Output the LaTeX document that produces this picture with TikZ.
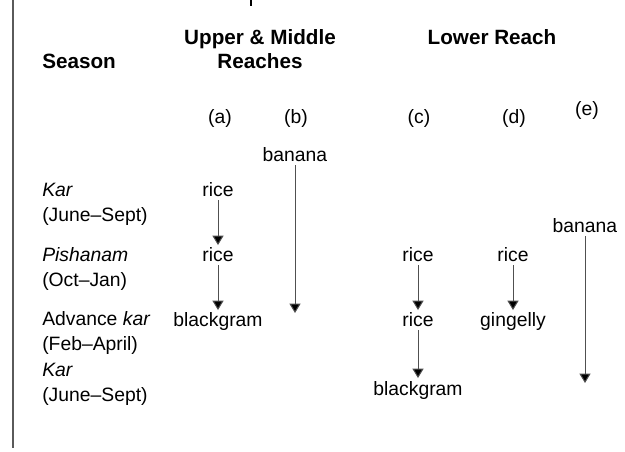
\documentclass[tikz,border=0pt]{standalone}
\usepackage{fontspec}
\setmainfont{Liberation Sans}
\usetikzlibrary{arrows.meta,positioning}
\definecolor{rulegray}{RGB}{90,90,90}
\definecolor{stemgray}{RGB}{80,80,80}
\tikzset{
    crop/.style={font=\fontsize{14.5}{18.75}\selectfont, inner sep=2pt, anchor=base},
    head/.style={font=\fontsize{15.5}{18}\selectfont\bfseries, inner sep=0pt, anchor=base, align=center},
    season/.style={font=\fontsize{14.5}{18.75}\selectfont, inner sep=0pt, anchor=base west, align=left},
    collabel/.style={font=\fontsize{14.5}{18.75}\selectfont, inner sep=0pt, anchor=base},
    seq/.style={draw=stemgray, line width=0.75pt, -{Triangle[width=8.25pt,length=7pt,fill=black]}},
}

\begin{document}
\begin{tikzpicture}[x=0.75pt, y=-0.75pt]
    \useasboundingbox (0,0) rectangle (625,452);

    % Frame line and cut-off title stem
    \draw[rulegray, line width=1.1pt] (13,0) -- (13,448);
    \draw[black, line width=2.2pt] (251,0) -- (251,6);

    % Headings
    \node[head] (upper) at (260,45) {Upper \& Middle};
    \node[head] (reaches) at (260,69) {Reaches};
    \node[head] (lower) at (492,45) {Lower Reach};
    \node[head, anchor=base west] (season) at (42,69) {Season};

    % Columns
    \foreach \x/\lab/\y in {220/a/124, 296/b/124, 419/c/124, 514/d/124, 587/e/116} {
        \node[collabel] (col-\lab) at (\x,\y) {(\lab)};
    }

    % Seasons (base = second line)
    \node[season] (kar1) at (42,222) {\textit{Kar}\\(June--Sept)};
    \node[season] (pish) at (42,287) {\textit{Pishanam}\\(Oct--Jan)};
    \node[season] (adv) at (42,351) {Advance \textit{kar}\\(Feb--April)};
    \node[season] (kar2) at (42,402) {\textit{Kar}\\(June--Sept)};

    % (a)
    \node[crop] (a1) at (218,197) {rice};
    \node[crop] (a2) at (218,262) {rice};
    \node[crop] (a3) at (218,327) {blackgram};
    \draw[seq] (a1) -- (a2);
    \draw[seq] (a2) -- (a3);

    % (b)
    \node[crop] (b1) at (295,162) {banana};
    \coordinate (b-end) at (295,313);
    \draw[seq] (b1) -- (b-end);

    % (c)
    \node[crop] (c1) at (418,262) {rice};
    \node[crop] (c2) at (418,327) {rice};
    \node[crop] (c3) at (418,395) {blackgram};
    \draw[seq] (c1) -- (c2);
    \draw[seq] (c2) -- (c3);

    % (d)
    \node[crop] (d1) at (513,262) {rice};
    \node[crop] (d2) at (513,327) {gingelly};
    \draw[seq] (d1) -- (d2);

    % (e)
    \node[crop] (e1) at (585,233) {banana};
    \coordinate (e-end) at (585,383);
    \draw[seq] (e1) -- (e-end);
\end{tikzpicture}
\end{document}
